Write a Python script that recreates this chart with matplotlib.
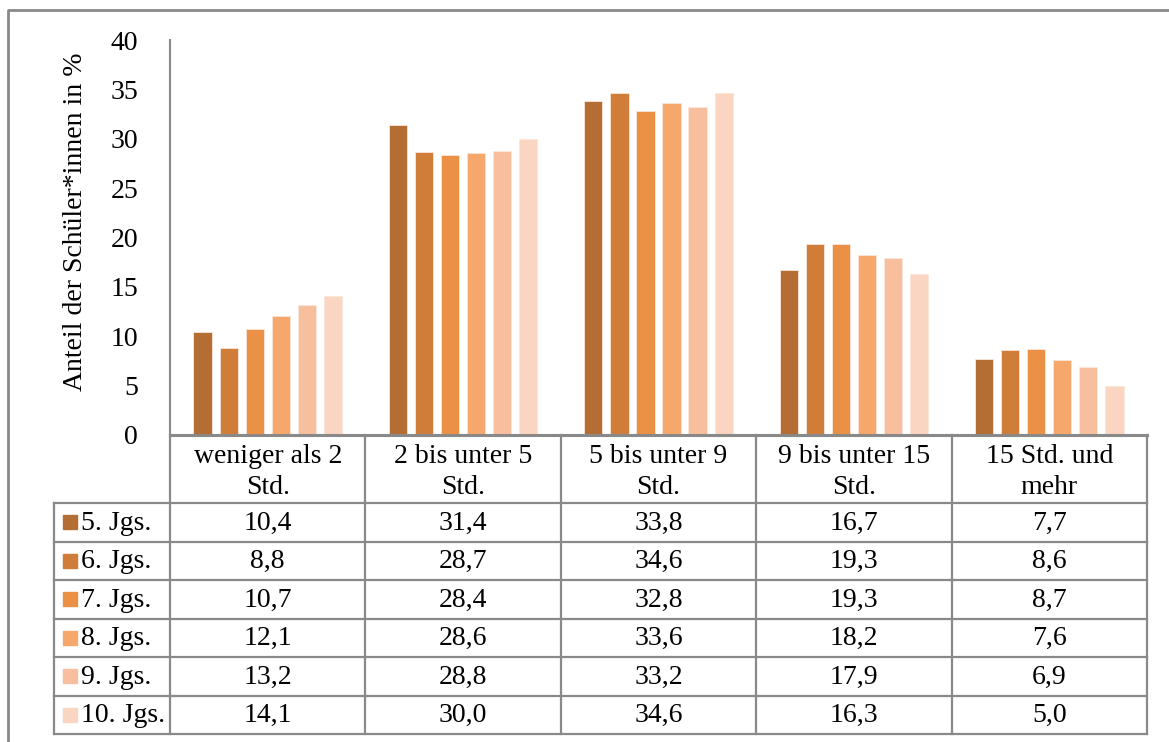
import numpy as np
import matplotlib.pyplot as plt
from matplotlib.patches import Rectangle

plt.rcParams['font.family'] = ['Liberation Serif', 'DejaVu Serif']

categories = ['weniger als 2\nStd.', '2 bis unter 5\nStd.', '5 bis unter 9\nStd.',
              '9 bis unter 15\nStd.', '15 Std. und\nmehr']
series = ['5. Jgs.', '6. Jgs.', '7. Jgs.', '8. Jgs.', '9. Jgs.', '10. Jgs.']
jgs5 = [10.4, 31.4, 33.8, 16.7, 7.7]
jgs6 = [8.8, 28.7, 34.6, 19.3, 8.6]
jgs7 = [10.7, 28.4, 32.8, 19.3, 8.7]
jgs8 = [12.1, 28.6, 33.6, 18.2, 7.6]
jgs9 = [13.2, 28.8, 33.2, 17.9, 6.9]
jgs10 = [14.1, 30.0, 34.6, 16.3, 5.0]
values = [jgs5, jgs6, jgs7, jgs8, jgs9, jgs10]
colors = ['#B46D33', '#D17D3A', '#EB9145', '#F6A86C', '#F8BF9E', '#FAD5C1']

W, H = 1169, 742
fig = plt.figure(figsize=(W / 100, H / 100), dpi=100)
grey = '#898989'
fs = 20

# plot area in pixel coordinates
x0, x1 = 170, 1147
ytop, ybot = 40, 435
ax = fig.add_axes([x0 / W, 1 - ybot / H, (x1 - x0) / W, (ybot - ytop) / H])
n = len(series)
step = 0.8 / n
xs = np.arange(len(categories))
for i, (vals, c) in enumerate(zip(values, colors)):
    ax.bar(xs - 0.4 + step * (i + 0.5), vals, width=step * 0.7, color=c,
           edgecolor='#FBE6DA', linewidth=0.6, zorder=2)
ax.set_xlim(-0.5, len(categories) - 0.5)
ax.set_ylim(0, 40)
ax.set_yticks(range(0, 41, 5))
ax.tick_params(axis='y', length=0, labelsize=fs, pad=23)
ax.set_xticks([])
for s in ['top', 'right', 'bottom']:
    ax.spines[s].set_visible(False)
ax.spines['left'].set_color(grey)
ax.spines['left'].set_linewidth(1.5)
ax.set_ylabel('Anteil der Schüler*innen in %', fontsize=fs)
ax.yaxis.set_label_coords(-0.084, 0.54)

# overlay for the data table and outer frame
ov = fig.add_axes([0, 0, 1, 1])
ov.set_xlim(0, W)
ov.set_ylim(H, 0)
ov.axis('off')

ov.plot([8, 8, W], [H, 10, 10], color=grey, lw=2)

col_w = (x1 - x0) / len(categories)
hdr_bot = 503
row_h = (734 - hdr_bot) / n
lbl_x = 54
tab_bot = hdr_bot + row_h * n

ov.plot([x0, x1], [ybot, ybot], color=grey, lw=2.2)
for k in range(len(categories) + 1):
    xx = x0 + k * col_w
    ov.plot([xx, xx], [ybot, tab_bot], color=grey, lw=1.6)
for r in range(n + 1):
    yy = hdr_bot + r * row_h
    ov.plot([lbl_x, x1], [yy, yy], color=grey, lw=1.6)
ov.plot([lbl_x, lbl_x], [hdr_bot, tab_bot], color=grey, lw=1.6)

for k, cat in enumerate(categories):
    ov.text(x0 + (k + 0.5) * col_w, (ybot + hdr_bot) / 2 + 3, cat, ha='center',
            va='center', fontsize=fs, linespacing=1.3)

for r, (name, vals, c) in enumerate(zip(series, values, colors)):
    yc = hdr_bot + (r + 0.5) * row_h
    ov.add_patch(Rectangle((63, yc - 7), 14, 14, color=c))
    ov.text(81, yc + 1, name, ha='left', va='center', fontsize=fs)
    for k, v in enumerate(vals):
        ov.text(x0 + (k + 0.5) * col_w, yc + 1, f'{v:.1f}'.replace('.', ','),
                ha='center', va='center', fontsize=fs)

fig.savefig('out.png', dpi=100)
